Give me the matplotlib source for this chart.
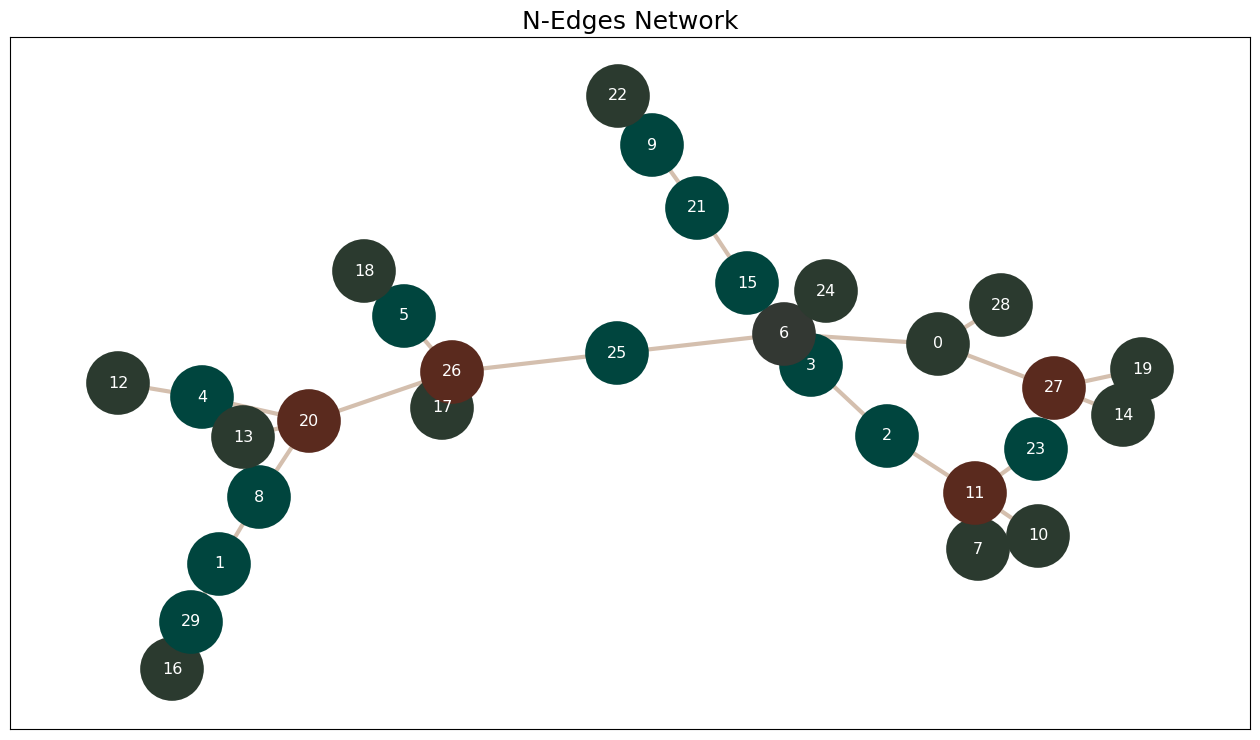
import matplotlib.pyplot as plt

# node positions (pixel-like layout coords, y downward)
node_ids = list(range(30))
pos_x = [938, 219, 887, 811, 202, 404, 784, 978, 259, 652,
         1038, 975, 118, 243, 1123, 747, 172, 442, 364, 1142,
         309, 697, 618, 1036, 826, 617, 452, 1054, 1001, 191]
pos_y = [344, 564, 436, 365, 397, 316, 334, 549, 497, 145,
         536, 493, 383, 437, 415, 283, 669, 408, 271, 369,
         421, 208, 96, 449, 291, 353, 372, 388, 305, 622]
teal = [9, 21, 15, 25, 3, 2, 23, 5, 4, 8, 1, 29]
brown = [27, 11, 26, 20]
edges = [(22, 9), (9, 21), (21, 15), (15, 6), (24, 6), (6, 25), (6, 3), (6, 0),
         (0, 28), (0, 27), (27, 19), (27, 14), (3, 2), (2, 11), (11, 23), (11, 7),
         (11, 10), (25, 26), (26, 5), (5, 18), (26, 17), (26, 20), (20, 13),
         (4, 20), (12, 4), (20, 8), (8, 1), (1, 29), (29, 16)]

def node_color(n):
    if n in teal:
        return '#00453e'
    if n in brown:
        return '#5a2a1e'
    if n == 6:
        return '#333833'
    return '#2b3a2f'

fig = plt.figure(figsize=(12.6, 7.4), dpi=100)
ax = fig.add_axes([10 / 1260, 1 - 729 / 740, 1240 / 1260, 692 / 740])
ax.set_xlim(10, 1250)
ax.set_ylim(729, 37)

for a, b in edges:
    ax.plot([pos_x[a], pos_x[b]], [pos_y[a], pos_y[b]], color='#d4bfae', lw=3, zorder=1)

ax.scatter(pos_x, pos_y, s=2100, c=[node_color(n) for n in node_ids], zorder=2, linewidths=0)
for n in node_ids:
    ax.text(pos_x[n], pos_y[n], str(n), color='white', fontsize=11.5,
            ha='center', va='center', zorder=3)

ax.set_xticks([])
ax.set_yticks([])
ax.set_title('N-Edges Network', fontsize=18)
fig.savefig('out.png', dpi=100)
